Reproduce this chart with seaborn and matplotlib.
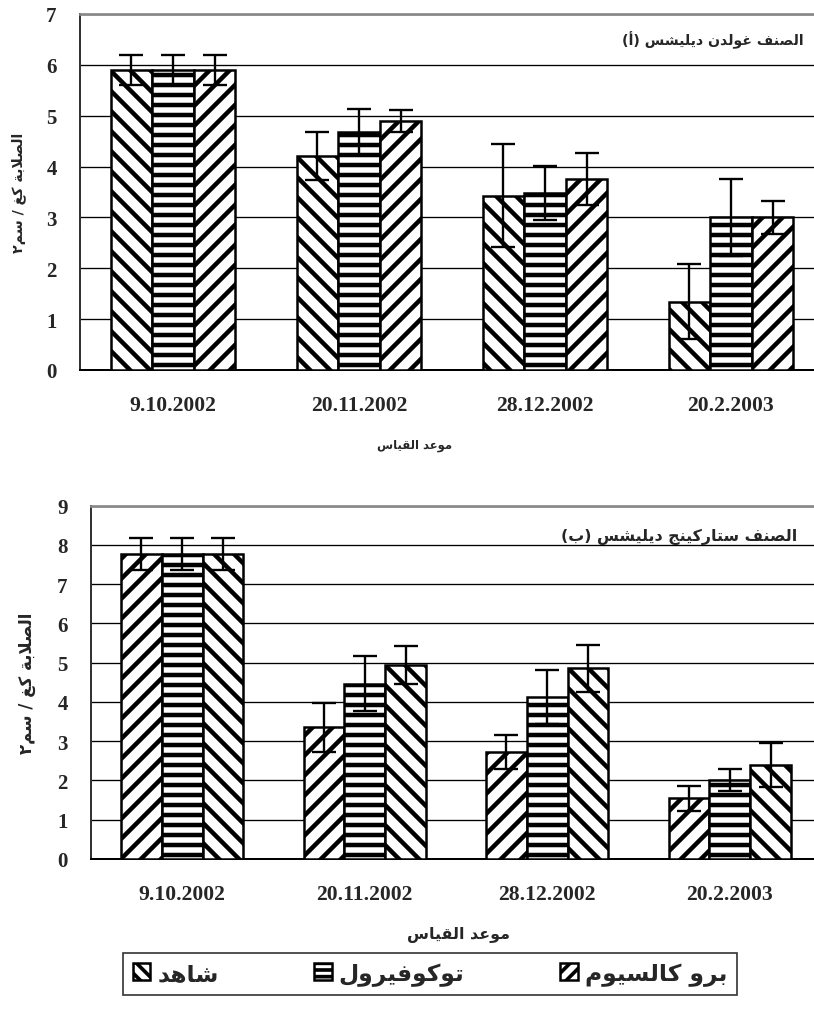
import pandas as pd
import matplotlib
matplotlib.use('Agg')
import matplotlib.pyplot as plt
import seaborn as sns
from matplotlib.patches import Patch
from matplotlib.ticker import FixedLocator

# measurement dates (x categories)
dates = ['9.10.2002', '20.11.2002', '28.12.2002', '20.2.2003']
# treatments
control = 'شاهد'
tocopherol = 'توكوفيرول'
procalcium = 'برو كالسيوم'

# (a) Golden Delicious - firmness kg/cm2
golden_control = [5.9, 4.2, 3.43, 1.34]
golden_tocopherol = [5.9, 4.68, 3.48, 3.0]
golden_procalcium = [5.9, 4.9, 3.75, 3.0]
golden_control_err = [0.29, 0.47, 1.01, 0.74]
golden_tocopherol_err = [0.29, 0.46, 0.53, 0.76]
golden_procalcium_err = [0.29, 0.22, 0.51, 0.33]

# (b) Starking Delicious - firmness kg/cm2
starking_procalcium = [7.77, 3.35, 2.72, 1.55]
starking_tocopherol = [7.77, 4.47, 4.13, 2.02]
starking_control = [7.77, 4.94, 4.86, 2.4]
starking_procalcium_err = [0.41, 0.62, 0.44, 0.32]
starking_tocopherol_err = [0.41, 0.69, 0.69, 0.28]
starking_control_err = [0.41, 0.49, 0.6, 0.56]

title_a = 'الصنف غولدن ديليشس (أ)'
title_b = 'الصنف ستاركينج ديليشس (ب)'
ylabel = 'الصلابة كغ / سم٢'
xlabel = 'موعد القياس'

hatches = {control: '\\\\', tocopherol: '--', procalcium: '//'}
legend_hatches = {control: '\\\\\\', tocopherol: '---', procalcium: '///'}

# contextual forms (isolated, final, initial, medial) for the letters used
FORMS = {
    'ا': ('\ufe8d', '\ufe8e'), 'أ': ('\ufe83', '\ufe84'),
    'ب': ('\ufe8f', '\ufe90', '\ufe91', '\ufe92'), 'ة': ('\ufe93', '\ufe94'),
    'ت': ('\ufe95', '\ufe96', '\ufe97', '\ufe98'),
    'ج': ('\ufe9d', '\ufe9e', '\ufe9f', '\ufea0'), 'د': ('\ufea9', '\ufeaa'),
    'ر': ('\ufead', '\ufeae'),
    'س': ('\ufeb1', '\ufeb2', '\ufeb3', '\ufeb4'),
    'ش': ('\ufeb5', '\ufeb6', '\ufeb7', '\ufeb8'),
    'ص': ('\ufeb9', '\ufeba', '\ufebb', '\ufebc'),
    'ع': ('\ufec9', '\ufeca', '\ufecb', '\ufecc'),
    'غ': ('\ufecd', '\ufece', '\ufecf', '\ufed0'),
    'ف': ('\ufed1', '\ufed2', '\ufed3', '\ufed4'),
    'ق': ('\ufed5', '\ufed6', '\ufed7', '\ufed8'),
    'ك': ('\ufed9', '\ufeda', '\ufedb', '\ufedc'),
    'ل': ('\ufedd', '\ufede', '\ufedf', '\ufee0'),
    'م': ('\ufee1', '\ufee2', '\ufee3', '\ufee4'),
    'ن': ('\ufee5', '\ufee6', '\ufee7', '\ufee8'),
    'ه': ('\ufee9', '\ufeea', '\ufeeb', '\ufeec'), 'و': ('\ufeed', '\ufeee'),
    'ي': ('\ufef1', '\ufef2', '\ufef3', '\ufef4'),
}
LAM_ALEF = {'ا': ('\ufefb', '\ufefc'), 'أ': ('\ufef7', '\ufef8')}
MIRROR = {'(': ')', ')': '('}


def shape(text):
    """Join Arabic letters and put them in visual (left to right) order."""
    def joins_next(ch):
        return ch in FORMS and len(FORMS[ch]) == 4

    out = []
    i = 0
    while i < len(text):
        ch = text[i]
        if ch not in FORMS:
            out.append(MIRROR.get(ch, ch))
            i += 1
            continue
        after_joiner = i > 0 and joins_next(text[i - 1])
        if ch == 'ل' and i + 1 < len(text) and text[i + 1] in LAM_ALEF:
            iso, fin = LAM_ALEF[text[i + 1]]
            out.append(fin if after_joiner else iso)
            i += 2
            continue
        before_letter = joins_next(ch) and i + 1 < len(text) and text[i + 1] in FORMS
        f = FORMS[ch]
        if after_joiner and before_letter:
            out.append(f[3])
        elif after_joiner:
            out.append(f[1])
        elif before_letter:
            out.append(f[2])
        else:
            out.append(f[0])
        i += 1
    return ''.join(reversed(out))


def make_frame(names, values, errors):
    rows = []
    for name, vals, errs in zip(names, values, errors):
        for d, v, e in zip(dates, vals, errs):
            rows.append({'date': d, 'treatment': name, 'value': v, 'err': e})
    return pd.DataFrame(rows)


def draw_panel(ax, df, order, ymax, title, title_xy, title_size, label_size, xlabel_pos, ylabel_pos):
    sns.barplot(data=df, x='date', y='value', hue='treatment', order=dates, hue_order=order,
                palette={n: 'white' for n in order}, saturation=1, width=0.67, gap=0,
                errorbar=None, edgecolor='black', linewidth=1.5, legend=False, ax=ax, zorder=3)
    for container, name in zip(ax.containers, order):
        sub = df[df['treatment'] == name].set_index('date').loc[dates]
        for bar in container:
            bar.set_hatch(hatches[name])
        xs = [b.get_x() + b.get_width() / 2 for b in container]
        ax.errorbar(xs, sub['value'], yerr=sub['err'], fmt='none', ecolor='black',
                    elinewidth=1.4, capsize=7, capthick=1.4, zorder=4)

    ax.set_xlim(-0.5, 3.5)
    ax.set_ylim(0, ymax)
    ax.set_yticks(range(ymax + 1))
    ax.yaxis.grid(True, color='black', linewidth=0.8, zorder=0)
    ax.xaxis.grid(False)
    ax.set_axisbelow(True)
    ax.xaxis.set_minor_locator(FixedLocator([-0.5, 0.5, 1.5, 2.5, 3.5]))
    ax.tick_params(axis='x', which='major', length=0, pad=15)
    ax.tick_params(axis='x', which='minor', length=6, width=1, direction='out')
    ax.tick_params(axis='y', length=6, width=1, direction='out', pad=8)
    for lab in ax.get_xticklabels() + ax.get_yticklabels():
        lab.set_fontfamily('Liberation Serif')
        lab.set_fontweight('bold')
    for lab in ax.get_xticklabels():
        lab.set_fontsize(13)
    for lab in ax.get_yticklabels():
        lab.set_fontsize(12.5)

    ax.spines['right'].set_visible(False)
    ax.spines['top'].set_color('#888888')
    ax.spines['top'].set_linewidth(1.6)
    ax.spines['left'].set_color('#333333')
    ax.spines['left'].set_linewidth(1.2)
    ax.spines['bottom'].set_color('black')
    ax.spines['bottom'].set_linewidth(1.2)

    ax.set_xlabel(shape(xlabel), fontsize=label_size[0], fontweight='bold', family=['DejaVu Sans'])
    ax.set_ylabel(shape(ylabel), fontsize=label_size[1], fontweight='bold', family=['DejaVu Sans'])
    ax.xaxis.set_label_coords(*xlabel_pos)
    ax.yaxis.set_label_coords(*ylabel_pos)
    ax.text(title_xy[0], title_xy[1], shape(title), transform=ax.transAxes, ha='right', va='center',
            fontsize=title_size, fontweight='bold', family=['DejaVu Sans'])


sns.set_theme(style='white')
plt.rcParams['hatch.linewidth'] = 2.7
plt.rcParams['hatch.color'] = 'black'

W, H = 814, 1010
fig = plt.figure(figsize=(W / 120, H / 120), dpi=120)

ax_a = fig.add_axes([80 / W, 1 - 371 / H, 744 / W, 356 / H])
df_a = make_frame([control, tocopherol, procalcium],
                  [golden_control, golden_tocopherol, golden_procalcium],
                  [golden_control_err, golden_tocopherol_err, golden_procalcium_err])
draw_panel(ax_a, df_a, [control, tocopherol, procalcium], 7, title_a, (0.972, 0.93),
           8.5, (7, 8.5), (0.45, -0.19), (-0.072, 0.5))

ax_b = fig.add_axes([91 / W, 1 - 860 / H, 730 / W, 353.3 / H])
df_b = make_frame([procalcium, tocopherol, control],
                  [starking_procalcium, starking_tocopherol, starking_control],
                  [starking_procalcium_err, starking_tocopherol_err, starking_control_err])
draw_panel(ax_b, df_b, [procalcium, tocopherol, control], 9, title_b, (0.967, 0.914),
           9.5, (9.5, 10), (0.503, -0.19), (-0.075, 0.5))

plt.rcParams['hatch.linewidth'] = 2.2
handles = [Patch(facecolor='white', edgecolor='black', hatch=legend_hatches[n], linewidth=1.5)
           for n in [control, tocopherol, procalcium]]
labels = [shape(n) for n in [control, tocopherol, procalcium]]
leg = fig.legend(handles, labels, loc='center', ncol=3,
                 bbox_to_anchor=(430 / W, 1 - 975 / H),
                 frameon=True, fancybox=False, edgecolor='black', borderaxespad=0,
                 handlelength=0.75, handleheight=0.75, handletextpad=0.3, borderpad=0.4,
                 columnspacing=4.1,
                 prop={'family': ['DejaVu Sans'], 'weight': 'bold', 'size': 14})
leg.get_frame().set_linewidth(1.0)

fig.savefig('out.png', dpi=120)
